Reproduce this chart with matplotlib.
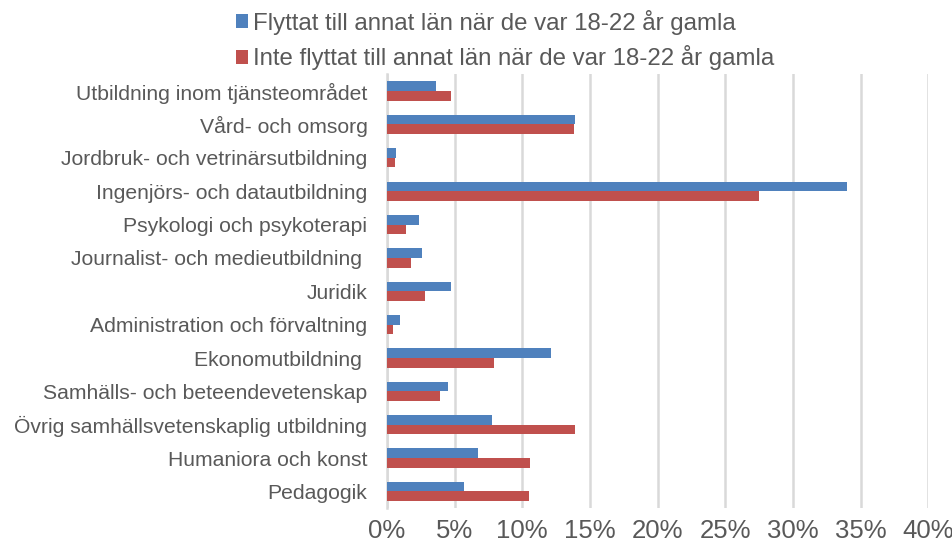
import matplotlib
matplotlib.use("Agg")
import matplotlib.pyplot as plt
import numpy as np
from matplotlib.ticker import FuncFormatter

plt.rcParams["font.family"] = ["Liberation Sans", "DejaVu Sans"]

CATEGORIES = [
    "Utbildning inom tjänsteområdet",
    "Vård- och omsorg",
    "Jordbruk- och vetrinärsutbildning",
    "Ingenjörs- och datautbildning",
    "Psykologi och psykoterapi",
    "Journalist- och medieutbildning ",
    "Juridik",
    "Administration och förvaltning",
    "Ekonomutbildning ",
    "Samhälls- och beteendevetenskap",
    "Övrig samhällsvetenskaplig utbildning",
    "Humaniora och konst",
    "Pedagogik",
]
MOVED = [3.6, 13.9, 0.7, 34.0, 2.4, 2.6, 4.7, 1.0, 12.1, 4.5, 7.8, 6.7, 5.7]
NOT_MOVED = [4.7, 13.8, 0.6, 27.5, 1.4, 1.8, 2.8, 0.45, 7.9, 3.9, 13.9, 10.6, 10.5]
SERIES = [
    "Flyttat till annat län när de var 18-22 år gamla",
    "Inte flyttat till annat län när de var 18-22 år gamla",
]
XTICKS = [0, 5, 10, 15, 20, 25, 30, 35, 40]

BLUE = "#4F81BD"
RED = "#C0504D"
TEXT = "#595959"

fig = plt.figure(figsize=(9.53, 5.47), dpi=100)
ax = fig.add_axes([0.406, 0.071, 0.568, 0.793])

y = np.arange(len(CATEGORIES))
h = 0.29
ax.barh(y - h / 2, MOVED, height=h, color=BLUE, label=SERIES[0], zorder=3)
ax.barh(y + h / 2, NOT_MOVED, height=h, color=RED, label=SERIES[1], zorder=3)

ax.set_ylim(len(CATEGORIES) - 0.5, -0.5)
ax.set_xlim(0, 40)
ax.set_yticks(y)
ax.set_yticklabels(CATEGORIES, fontsize=15.25, color=TEXT)
ax.set_xticks(XTICKS)
ax.xaxis.set_major_formatter(FuncFormatter(lambda v, _: f"{v:.0f}%"))
ax.tick_params(axis="x", labelsize=18.5, colors=TEXT, length=0, pad=8)
ax.tick_params(axis="y", length=0, pad=14)

ax.grid(axis="x", color="#D9D9D9", linewidth=1.8, zorder=0)
for s in ["top", "right", "bottom"]:
    ax.spines[s].set_visible(False)
ax.spines["left"].set_color("#D9D9D9")
ax.spines["left"].set_linewidth(1.8)

fig.legend(
    loc="upper center", bbox_to_anchor=(0.530, 1.022), ncol=1, frameon=False,
    fontsize=17.3, labelcolor=TEXT, handlelength=0.5, handleheight=0.5,
    handletextpad=0.21, labelspacing=0.45,
)

fig.savefig("out.png", dpi=100)
